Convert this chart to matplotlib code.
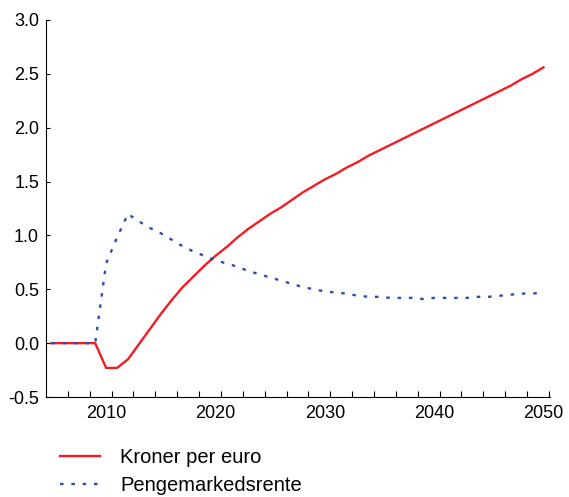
import numpy as np
import matplotlib.pyplot as plt
from matplotlib.ticker import FixedLocator

plt.rcParams['font.family'] = ['Liberation Sans', 'DejaVu Sans']

# data (annual, 2005-2050)
years = list(range(2005, 2051))
kroner_per_euro = [0, 0, 0, 0, 0, -0.23, -0.23, -0.15, -0.01, 0.13,
                   0.27, 0.40, 0.52, 0.62, 0.72, 0.81, 0.89, 0.98, 1.06, 1.13,
                   1.20, 1.26, 1.33, 1.40, 1.46, 1.52, 1.57, 1.63, 1.68, 1.74,
                   1.79, 1.84, 1.89, 1.94, 1.99, 2.04, 2.09, 2.14, 2.19, 2.24,
                   2.29, 2.34, 2.39, 2.45, 2.50, 2.56]
pengemarkedsrente = [0, 0, 0, 0, 0, 0.74, 0.98, 1.20, 1.13, 1.07,
                     1.02, 0.96, 0.90, 0.85, 0.81, 0.77, 0.74, 0.71, 0.67, 0.64,
                     0.61, 0.58, 0.55, 0.52, 0.50, 0.48, 0.47, 0.46, 0.44, 0.43,
                     0.43, 0.42, 0.42, 0.42, 0.41, 0.42, 0.42, 0.42, 0.42, 0.43,
                     0.43, 0.44, 0.45, 0.46, 0.46, 0.47]
labels = ['Kroner per euro', 'Pengemarkedsrente']

red = '#f21d23'
blue = '#2d4fae'

fig = plt.figure(figsize=(5.69, 4.97), dpi=100)
ax = fig.add_axes([0.0808, 0.2012, 0.8858, 0.7586])

ax.plot(years, kroner_per_euro, color=red, lw=1.7, label=labels[0])
ax.plot(years, pengemarkedsrente, color=blue, lw=1.7,
        linestyle=(0, (1.5, 3.3)), label=labels[1])

ax.set_xlim(2004.5, 2050.6)
ax.set_ylim(-0.5, 3.0)
ax.set_yticks(np.arange(-0.5, 3.01, 0.5))
ax.set_yticklabels(['%.1f' % v for v in np.arange(-0.5, 3.01, 0.5)])
ax.set_xticks([2010, 2020, 2030, 2040, 2050])
ax.xaxis.set_minor_locator(FixedLocator(np.arange(2006.5, 2051, 2)))

ax.tick_params(axis='x', which='major', length=0, labelsize=13, pad=6)
ax.tick_params(axis='x', which='minor', direction='in', length=4, width=0.8)
ax.tick_params(axis='y', direction='in', length=3, width=0.8, labelsize=13, pad=5)

for s in ['top', 'right']:
    ax.spines[s].set_visible(False)
for s in ['left', 'bottom']:
    ax.spines[s].set_linewidth(0.8)

fig.legend(loc='center left', bbox_to_anchor=(0.105, 0.0513), frameon=False,
           fontsize=14.5, handlelength=2.0, handletextpad=1.0, labelspacing=0.45,
           borderpad=0, borderaxespad=0)

fig.savefig('out.png', dpi=100)
